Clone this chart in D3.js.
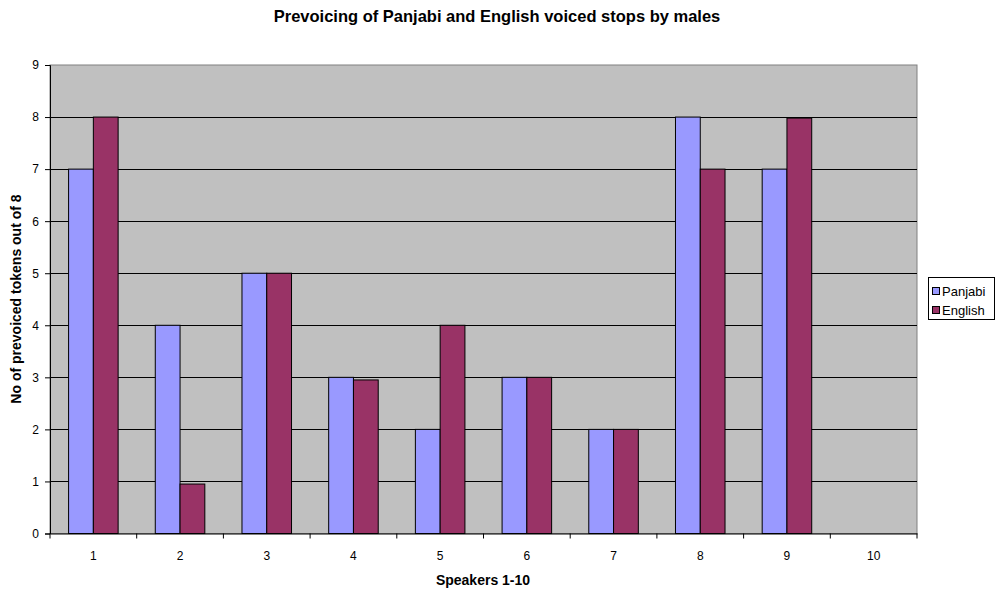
<!DOCTYPE html>
<html><head><meta charset="utf-8">
<script src="https://cdn.jsdelivr.net/npm/d3@7"></script>
<style>body{margin:0;background:#fff;} svg{display:block;font-family:"Liberation Sans",Arial,sans-serif;}</style>
</head><body>
<script>
const categories = ["1","2","3","4","5","6","7","8","9","10"];
const panjabi = [7,4,5,3,2,3,2,8,7,0];
const english = [8,0.95,5,2.95,4,3,2,7,7.98,0];
const seriesNames = ["Panjabi","English"];
const colors = ["#9999FF","#993366"];
const yTicks = [0,1,2,3,4,5,6,7,8,9];

const W=996,H=590;
const m={left:50,top:65,right:917,bottom:533.5};
const svg=d3.select("body").append("svg").attr("width",W).attr("height",H);

const x=d3.scaleBand().domain(categories).range([m.left,m.right]).paddingInner(0).paddingOuter(0);
const y=d3.scaleLinear().domain([0,9]).range([m.bottom,m.top]);
const bw=x.bandwidth()/3.5;
const xs=d3.scaleBand().domain(seriesNames).range([0.75*bw,2.75*bw]);

svg.append("rect").attr("x",m.left).attr("y",m.top).attr("width",m.right-m.left).attr("height",m.bottom-m.top)
  .attr("fill","#C0C0C0").attr("stroke","#808080").attr("stroke-width",1);

svg.append("g").selectAll("line").data(yTicks.filter(d=>d>0&&d<9)).join("line")
  .attr("x1",m.left).attr("x2",m.right).attr("y1",d=>Math.round(y(d))+0.5).attr("y2",d=>Math.round(y(d))+0.5)
  .attr("stroke","#000").attr("stroke-width",1);

const series=[panjabi,english];
series.forEach((vals,si)=>{
  svg.append("g").selectAll("rect").data(vals.map((v,i)=>({c:categories[i],v}))).join("rect")
    .filter(d=>d.v>0)
    .attr("x",d=>x(d.c)+xs(seriesNames[si]))
    .attr("width",xs.bandwidth())
    .attr("y",d=>y(d.v))
    .attr("height",d=>y(0)-y(d.v))
    .attr("fill",colors[si]).attr("stroke","#000").attr("stroke-width",1);
});

// axes
const yAxis=d3.axisLeft(y).tickValues(yTicks).tickSize(5).tickFormat(d3.format("d"));
const gy=svg.append("g").attr("transform",`translate(${m.left},0)`).call(yAxis);
gy.selectAll("text").attr("font-size","12px").attr("fill","#000").attr("x",-11);
gy.selectAll("line").attr("stroke","#000");
gy.select(".domain").attr("stroke","#000");

const xAxis=d3.axisBottom(x).tickSize(0).tickSizeOuter(0);
const gx=svg.append("g").attr("transform",`translate(0,${m.bottom})`).call(xAxis);
gx.selectAll("text").attr("font-size","12px").attr("fill","#000").attr("dy","0").attr("y",26.5);
gx.select(".domain").attr("stroke","#000");
const bounds=categories.map(c=>x(c)).concat([m.right]);
gx.append("g").selectAll("line").data(bounds).join("line")
  .attr("x1",d=>d).attr("x2",d=>d).attr("y1",0).attr("y2",5).attr("stroke","#000");

// titles
svg.append("text").attr("x",497).attr("y",21.5).attr("text-anchor","middle")
  .attr("font-size","16.5px").attr("font-weight","bold").text("Prevoicing of Panjabi and English voiced stops by males");
svg.append("text").attr("x",483).attr("y",585).attr("text-anchor","middle")
  .attr("font-size","14px").attr("font-weight","bold").text("Speakers 1-10");
svg.append("text").attr("transform",`translate(21,299) rotate(-90)`).attr("text-anchor","middle")
  .attr("font-size","14px").attr("font-weight","bold").text("No of prevoiced tokens out of 8");

// legend
const lg=svg.append("g");
lg.append("rect").attr("x",928.5).attr("y",277.5).attr("width",66).attr("height",42).attr("fill","#fff").attr("stroke","#000");
seriesNames.forEach((n,i)=>{
  lg.append("rect").attr("x",932.5).attr("y",287.5+i*19).attr("width",7).attr("height",7).attr("fill",colors[i]).attr("stroke","#000");
  lg.append("text").attr("x",942).attr("y",296+i*19).attr("font-size","13px").text(n);
});
</script>
</body></html>
